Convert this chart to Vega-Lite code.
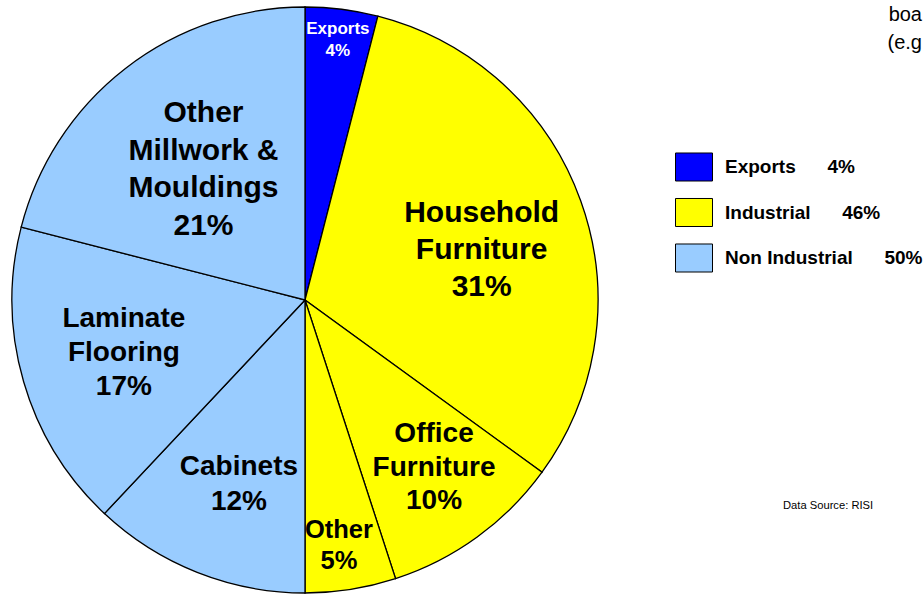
{
  "$schema": "https://vega.github.io/schema/vega-lite/v6.json",
  "width": 586,
  "height": 586,
  "autosize": {"type": "none"},
  "padding": {"left": 12, "top": 7, "right": 325, "bottom": 3},
  "background": "white",
  "title": {
    "text": "Data Source: RISI",
    "orient": "bottom",
    "anchor": "start",
    "frame": "group",
    "dx": 771,
    "dy": -90,
    "offset": 0,
    "baseline": "middle",
    "fontSize": 11.2,
    "font": "Liberation Sans",
    "fontWeight": "normal",
    "color": "#000000"
  },
  "config": {
    "view": {"stroke": null},
    "text": {"font": "Liberation Sans", "fontWeight": "bold", "align": "center", "baseline": "middle", "lineBreak": "\n"}
  },
  "data": {
    "values": [
      {"cat": "Exports", "group": "Exports", "value": 4, "order": 1, "label": "Exports\n4%"},
      {"cat": "Household Furniture", "group": "Industrial", "value": 31, "order": 2, "label": "Household\nFurniture\n31%"},
      {"cat": "Office Furniture", "group": "Industrial", "value": 10, "order": 3, "label": "Office\nFurniture\n10%"},
      {"cat": "Other", "group": "Industrial", "value": 5, "order": 4, "label": "Other\n5%"},
      {"cat": "Cabinets", "group": "Non Industrial", "value": 12, "order": 5, "label": "Cabinets\n12%"},
      {"cat": "Laminate Flooring", "group": "Non Industrial", "value": 17, "order": 6, "label": "Laminate\nFlooring\n17%"},
      {"cat": "Other Millwork & Mouldings", "group": "Non Industrial", "value": 21, "order": 7, "label": "Other\nMillwork &\nMouldings\n21%"}
    ]
  },
  "encoding": {
    "theta": {"field": "value", "type": "quantitative", "stack": true},
    "order": {"field": "order", "type": "quantitative"}
  },
  "layer": [
    {
      "mark": {"type": "arc", "stroke": "#000000", "strokeWidth": 1.3},
      "encoding": {
        "color": {
          "field": "group",
          "type": "nominal",
          "scale": {"domain": ["Exports", "Industrial", "Non Industrial"], "range": ["#0000FF", "#FFFF00", "#99CCFF"]},
          "legend": {
            "orient": "none",
            "legendX": 663,
            "legendY": -2,
            "title": ["boa", "(e.g"],
            "titleFontSize": 20,
            "titleFont": "Liberation Sans",
            "titleFontWeight": "normal",
            "titleColor": "#000000",
            "titleLineHeight": 28,
            "titleAnchor": "end",
            "titleAlign": "right",
            "titleBaseline": "top",
            "titlePadding": 95,
            "symbolType": "M-1,-0.757H1V0.757H-1Z",
            "symbolSize": 1369,
            "symbolStrokeColor": "#000000",
            "symbolStrokeWidth": 1,
            "symbolOpacity": 1,
            "labelFont": "Liberation Sans",
            "labelFontSize": 19,
            "labelFontWeight": "bold",
            "labelColor": "#000000",
            "labelOffset": 12,
            "labelLimit": 400,
            "rowPadding": 9.5,
            "labelExpr": "datum.label == 'Exports' ? 'Exports\u00a0\u00a0\u00a0\u00a0\u00a0\u00a04%' : datum.label == 'Industrial' ? 'Industrial\u00a0\u00a0\u00a0\u00a0\u00a0\u00a046%' : 'Non Industrial\u00a0\u00a0\u00a0\u00a0\u00a0\u00a050%'"
          }
        }
      }
    },
    {
      "mark": {"type": "text", "radius": 262.5, "dy": -11, "fontSize": 17, "lineHeight": 22, "fill": "#FFFFFF"},
      "encoding": {"text": {"condition": {"test": "datum.cat == 'Exports'", "field": "label"}, "value": ""}}
    },
    {
      "mark": {"type": "text", "radius": 183.5, "dx": 4, "dy": -25, "fontSize": 30, "lineHeight": 37, "fill": "#000000"},
      "encoding": {"text": {"condition": {"test": "datum.cat == 'Household Furniture'", "field": "label"}, "value": ""}}
    },
    {
      "mark": {"type": "text", "radius": 211.7, "dx": 4.6, "dy": -36.8, "fontSize": 28, "lineHeight": 33.5, "fill": "#000000"},
      "encoding": {"text": {"condition": {"test": "datum.cat == 'Office Furniture'", "field": "label"}, "value": ""}}
    },
    {
      "mark": {"type": "text", "radius": 247.8, "dx": -4.8, "dy": -14.7, "fontSize": 25.5, "lineHeight": 31, "fill": "#000000"},
      "encoding": {"text": {"condition": {"test": "datum.cat == 'Other'", "field": "label"}, "value": ""}}
    },
    {
      "mark": {"type": "text", "radius": 195.8, "dx": 6, "dy": -15, "fontSize": 28, "lineHeight": 35, "fill": "#000000"},
      "encoding": {"text": {"condition": {"test": "datum.cat == 'Cabinets'", "field": "label"}, "value": ""}}
    },
    {
      "mark": {"type": "text", "radius": 188.6, "dy": -34, "fontSize": 28, "lineHeight": 34, "fill": "#000000"},
      "encoding": {"text": {"condition": {"test": "datum.cat == 'Laminate Flooring'", "field": "label"}, "value": ""}}
    },
    {
      "mark": {"type": "text", "radius": 165.6, "dy": -56, "fontSize": 30, "lineHeight": 37.5, "fill": "#000000"},
      "encoding": {"text": {"condition": {"test": "datum.cat == 'Other Millwork & Mouldings'", "field": "label"}, "value": ""}}
    }
  ]
}
